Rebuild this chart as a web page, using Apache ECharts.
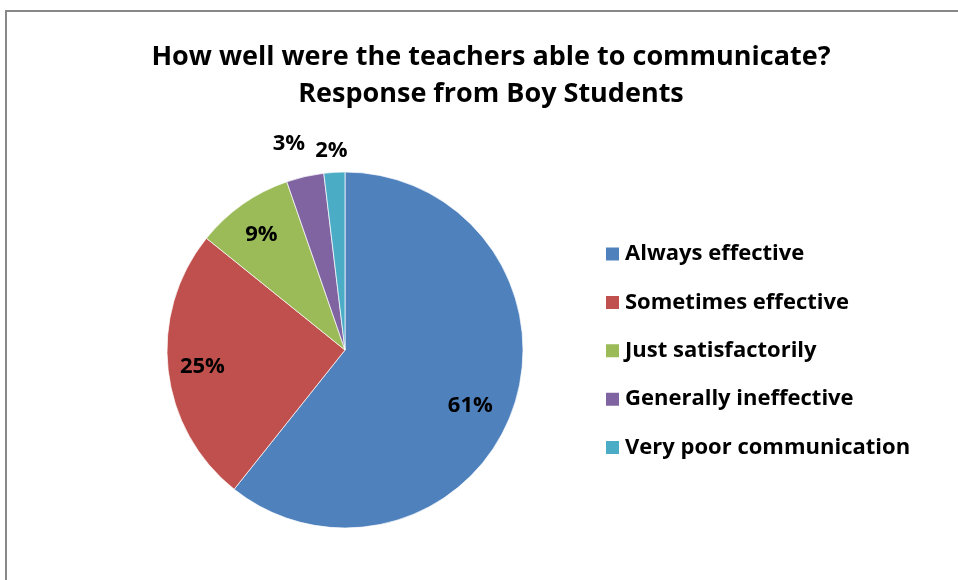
<!DOCTYPE html>
<html><head><meta charset="utf-8">
<script src="https://cdn.jsdelivr.net/npm/echarts@6/dist/echarts.min.js"></script>
<style>
html,body{margin:0;padding:0;background:#fff;}
#frame{position:absolute;left:5px;top:10px;width:960px;height:580px;border-top:2px solid #888;border-left:2px solid #888;}
#main{position:absolute;left:0;top:0;width:958px;height:580px;}
</style></head>
<body>
<div id="frame"></div>
<div id="main"></div>
<script>
const categories = ["Always effective","Sometimes effective","Just satisfactorily","Generally ineffective","Very poor communication"];
const values = [60.7, 25.1, 8.9, 3.4, 1.9];
const colors = ["#4F81BD","#C0504D","#9BBB59","#8064A2","#4BACC6"];
const outsideLabel = [false, false, false, true, true];

const FONT = '"Open Sans"';
const chart = echarts.init(document.getElementById('main'));
const R = 178, C = [345, 350];
// small per-label nudges (dx, dy) to mimic Excel's label placement
const nudge = [[-12, 8], [2, 1], [0, 4], [-9, -2], [-1, 10]];
function labelFor(i, show) {
  const dx = nudge[i][0], dy = nudge[i][1];
  const txt = '{v|' + Math.round(values[i]) + '%}';
  return {
    show: show,
    padding: [0, Math.max(0, -2 * dx), 0, Math.max(0, 2 * dx)],
    formatter: (dy > 0 ? '{e| }\n' : '') + txt + (dy < 0 ? '\n{e| }' : ''),
    rich: {
      e: {fontSize: 1, lineHeight: Math.max(1, 2 * Math.abs(dy)), height: Math.max(1, 2 * Math.abs(dy))},
      v: {fontFamily: FONT, fontWeight: 'bold', fontSize: 22, lineHeight: 26, color: '#000'}
    }
  };
}

chart.setOption({
  animation: false,
  title: {
    text: 'How well were the teachers able to communicate?\nResponse from Boy Students',
    left: 486, top: 34, textAlign: 'center',
    textStyle: {fontFamily: FONT, fontWeight: 'bold', fontSize: 27, lineHeight: 37, color: '#000'}
  },
  legend: {
    orient: 'vertical', left: 599, top: 235, itemWidth: 15, itemHeight: 15, itemGap: 20.4,
    icon: 'rect', data: categories,
    textStyle: {fontFamily: FONT, fontWeight: 'bold', fontSize: 22, lineHeight: 28, color: '#000'}
  },
  series: [
    {
      type: 'pie', center: C, radius: R, startAngle: 90, clockwise: true,
      label: {show: false}, labelLine: {show: false},
      itemStyle: {borderColor: '#fff', borderWidth: 0.7},
      data: categories.map((n, i) => ({name: n, value: values[i], itemStyle: {color: colors[i]}}))
    },
    {
      type: 'pie', center: C, radius: [107, R], startAngle: 90, silent: true, legendHoverLink: false,
      itemStyle: {color: 'rgba(0,0,0,0)'}, labelLine: {show: false},
      label: {position: 'inside'},
      data: categories.map((n, i) => ({name: n, value: values[i], label: labelFor(i, !outsideLabel[i])}))
    },
    {
      type: 'pie', center: C, radius: [R, 236], startAngle: 90, silent: true, legendHoverLink: false,
      itemStyle: {color: 'rgba(0,0,0,0)'}, labelLine: {show: false},
      label: {position: 'inside'},
      data: categories.map((n, i) => ({name: n, value: values[i], label: labelFor(i, outsideLabel[i])}))
    }
  ]
});
</script>
</body></html>
